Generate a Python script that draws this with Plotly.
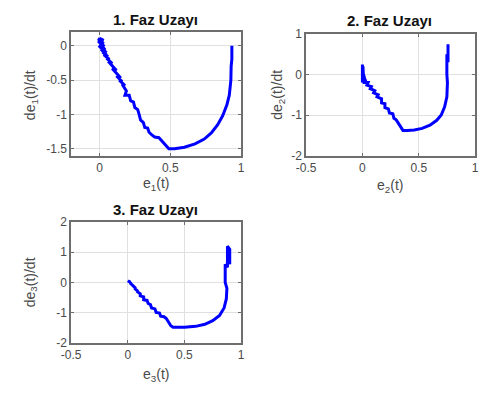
import plotly.graph_objects as go

W, H = 480, 394

# ---- data ----
e1 = [0.00, 0.03, -0.01, 0.03, -0.01, 0.035, 0.00, 0.04, -0.005, 0.035, 0.01, 0.05, 0.01, 0.05, 0.02, 0.06,
      0.03, 0.07, 0.05, 0.09, 0.06, 0.10, 0.08, 0.12, 0.09, 0.13, 0.11, 0.15, 0.12, 0.16, 0.14, 0.18, 0.16,
      0.19, 0.18, 0.21, 0.22, 0.24, 0.25, 0.27, 0.28, 0.29, 0.31, 0.32, 0.34, 0.35, 0.37, 0.39, 0.42, 0.45,
      0.49, 0.53, 0.60, 0.675, 0.74, 0.79, 0.835, 0.87, 0.90, 0.917, 0.928, 0.93, 0.935, 0.935]
de1 = [0.11, 0.08, 0.10, 0.03, 0.07, -0.01, 0.05, -0.06, 0.00, -0.08, -0.03, -0.10, -0.05, -0.13, -0.09,
       -0.16, -0.13, -0.20, -0.18, -0.26, -0.22, -0.31, -0.28, -0.36, -0.33, -0.42, -0.38, -0.47, -0.44, -0.52,
       -0.50, -0.58, -0.56, -0.66, -0.72, -0.72, -0.80, -0.82, -0.90, -0.93, -1.00, -1.08, -1.12, -1.19, -1.20,
       -1.26, -1.30, -1.33, -1.34, -1.41, -1.50, -1.50, -1.48, -1.43, -1.36, -1.27, -1.15, -1.02, -0.86, -0.72,
       -0.50, -0.30, -0.20, 0.00]

e2 = [0.00, 0.00, 0.005, 0.01, 0.00, 0.02, 0.00, 0.03, 0.02, 0.05, 0.04, 0.08, 0.07, 0.11, 0.10, 0.14, 0.13,
      0.17, 0.17, 0.20, 0.20, 0.23, 0.24, 0.27, 0.28, 0.30, 0.33, 0.36, 0.40, 0.46, 0.53, 0.60, 0.66, 0.70,
      0.73, 0.75, 0.755, 0.75, 0.75, 0.76, 0.76]
de2 = [0.25, -0.20, 0.20, -0.15, 0.10, -0.10, -0.20, -0.12, -0.20, -0.20, -0.26, -0.30, -0.35, -0.40, -0.45,
       -0.50, -0.55, -0.60, -0.70, -0.72, -0.82, -0.85, -0.95, -0.97, -1.08, -1.12, -1.25, -1.38, -1.38, -1.37,
       -1.33, -1.25, -1.13, -1.00, -0.80, -0.55, -0.20, 0.00, 0.50, 0.30, 0.75]

e3 = [0.00, 0.02, 0.01, 0.03, 0.02, 0.05, 0.04, 0.07, 0.06, 0.09, 0.08, 0.11, 0.11, 0.14, 0.14, 0.17, 0.18,
      0.20, 0.21, 0.24, 0.25, 0.28, 0.29, 0.32, 0.34, 0.36, 0.38, 0.40, 0.50, 0.60, 0.68, 0.75, 0.81, 0.85,
      0.87, 0.875, 0.86, 0.86, 0.88, 0.88, 0.90, 0.90, 0.89]
de3 = [0.05, 0.00, 0.05, -0.05, -0.02, -0.12, -0.10, -0.20, -0.20, -0.30, -0.30, -0.38, -0.45, -0.48, -0.58,
       -0.60, -0.70, -0.74, -0.85, -0.88, -1.00, -1.02, -1.12, -1.14, -1.20, -1.30, -1.44, -1.49, -1.49, -1.46,
       -1.39, -1.27, -1.10, -0.85, -0.55, -0.20, 0.00, 0.60, 0.50, 1.20, 1.10, 0.60, 1.00]

titles = ["1. Faz Uzayı", "2. Faz Uzayı", "3. Faz Uzayı"]
xlabels = ["e<sub>1</sub>(t)", "e<sub>2</sub>(t)", "e<sub>3</sub>(t)"]
ylabels = ["de<sub>1</sub>(t)/dt", "de<sub>2</sub>(t)/dt", "de<sub>3</sub>(t)/dt"]

x1_ticks = [0, 0.5, 1]; x1_text = ["0", "0.5", "1"]
y1_ticks = [-1.5, -1, -0.5, 0]; y1_text = ["-1.5", "-1", "-0.5", "0"]
x2_ticks = [-0.5, 0, 0.5, 1]; x2_text = ["-0.5", "0", "0.5", "1"]
y2_ticks = [-2, -1, 0, 1]; y2_text = ["-2", "-1", "0", "1"]
x3_ticks = [-0.5, 0, 0.5, 1]; x3_text = ["-0.5", "0", "0.5", "1"]
y3_ticks = [-2, -1, 0, 1, 2]; y3_text = ["-2", "-1", "0", "1", "2"]


def px_x(p):
    return p / W


def px_y(p):
    return 1 - p / H


FONT = "Liberation Sans, Arial, sans-serif"
LINE = dict(color="#0000ff", width=3)

fig = go.Figure()
fig.add_trace(go.Scatter(x=e1, y=de1, mode="lines", line=LINE, xaxis="x", yaxis="y"))
fig.add_trace(go.Scatter(x=e2, y=de2, mode="lines", line=LINE, xaxis="x2", yaxis="y2"))
fig.add_trace(go.Scatter(x=e3, y=de3, mode="lines", line=LINE, xaxis="x3", yaxis="y3"))

ax_common = dict(showgrid=True, gridcolor="#e0e0e0", gridwidth=1, zeroline=False,
                 showline=True, linecolor="#6e6e6e", linewidth=1.5, mirror="ticks",
                 ticks="inside", ticklen=3, tickcolor="#6e6e6e",
                 tickfont=dict(family=FONT, size=12, color="#4a4a4a"), fixedrange=True)

boxes = [(63, 238, 26, 154), (305, 479, 28, 154), (63, 238, 223, 348)]

fig.update_layout(
    width=W, height=H, margin=dict(l=0, r=0, t=0, b=0),
    paper_bgcolor="white", plot_bgcolor="white", showlegend=False,
    xaxis=dict(domain=[px_x(boxes[0][0]), px_x(boxes[0][1])], range=[-0.2, 1], anchor="y",
               tickvals=x1_ticks, ticktext=x1_text, **ax_common),
    yaxis=dict(domain=[px_y(boxes[0][3]), px_y(boxes[0][2])], range=[-1.6, 0.2], anchor="x",
               tickvals=y1_ticks, ticktext=y1_text, **ax_common),
    xaxis2=dict(domain=[px_x(boxes[1][0]), px_x(boxes[1][1])], range=[-0.5, 1], anchor="y2",
                tickvals=x2_ticks, ticktext=x2_text, **ax_common),
    yaxis2=dict(domain=[px_y(boxes[1][3]), px_y(boxes[1][2])], range=[-2, 1], anchor="x2",
                tickvals=y2_ticks, ticktext=y2_text, **ax_common),
    xaxis3=dict(domain=[px_x(boxes[2][0]), px_x(boxes[2][1])], range=[-0.5, 1], anchor="y3",
                tickvals=x3_ticks, ticktext=x3_text, **ax_common),
    yaxis3=dict(domain=[px_y(boxes[2][3]), px_y(boxes[2][2])], range=[-2, 2], anchor="x3",
                tickvals=y3_ticks, ticktext=y3_text, **ax_common),
)

title_pos = [(150, 13), (391, 14), (150, 210)]
xlab_pos = [(150, 184), (391, 186), (150, 382)]
ylab_pos = [(21, 91), (276, 91), (21, 285)]

ann = []
for i in range(3):
    ann.append(dict(x=px_x(title_pos[i][0]), y=px_y(title_pos[i][1]), xref="paper", yref="paper",
                    text="<b>" + titles[i] + "</b>", showarrow=False, xanchor="center", yanchor="middle",
                    font=dict(family=FONT, size=15, color="#111111")))
    ann.append(dict(x=px_x(xlab_pos[i][0]), y=px_y(xlab_pos[i][1]), xref="paper", yref="paper",
                    text=xlabels[i], showarrow=False, xanchor="center", yanchor="middle",
                    font=dict(family=FONT, size=14, color="#4a4a4a")))
    ann.append(dict(x=px_x(ylab_pos[i][0]), y=px_y(ylab_pos[i][1]), xref="paper", yref="paper",
                    text=ylabels[i], showarrow=False, xanchor="center", yanchor="middle", textangle=-90,
                    font=dict(family=FONT, size=14, color="#4a4a4a")))
fig.update_layout(annotations=ann)

fig.write_html("out.html")
